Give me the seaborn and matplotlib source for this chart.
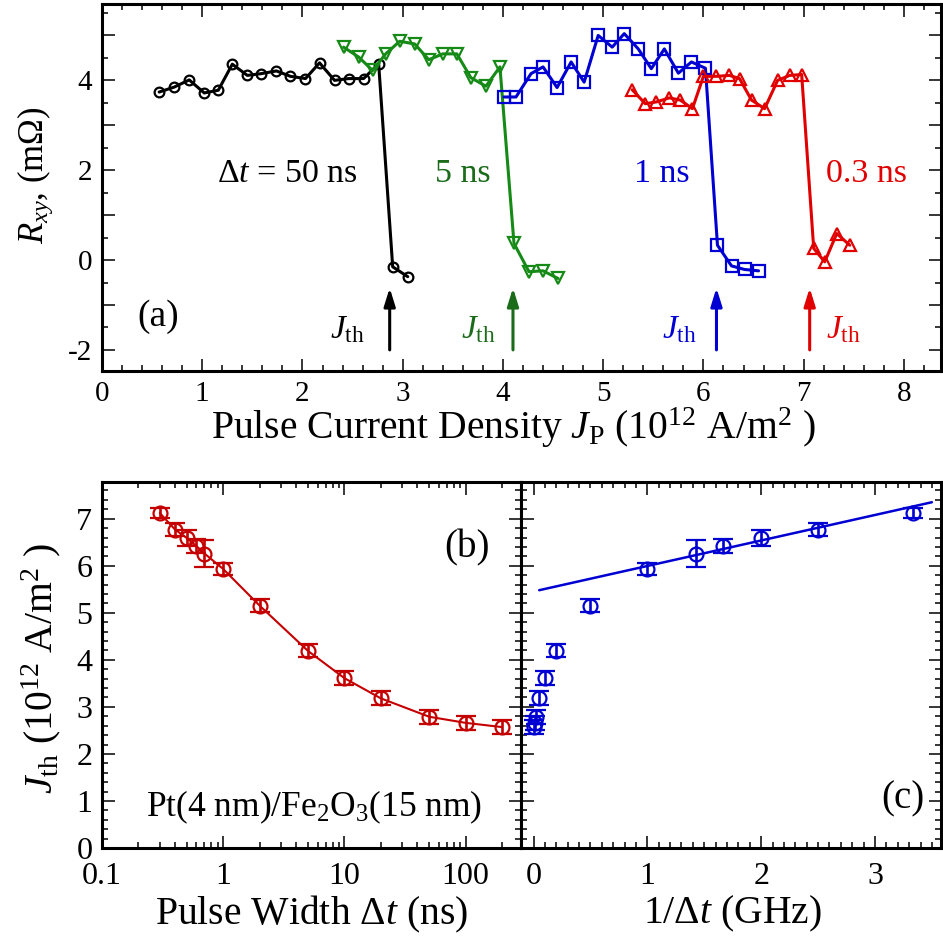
import matplotlib
matplotlib.use("Agg")
import matplotlib.pyplot as plt
from matplotlib.ticker import MultipleLocator, FuncFormatter, LogLocator, NullFormatter
import numpy as np
import pandas as pd
import seaborn as sns

# ---- panel (a): R_xy vs pulse current density ----
jp_50 = [0.57, 0.72, 0.87, 1.02, 1.16, 1.30, 1.45, 1.59, 1.74, 1.88, 2.03, 2.17,
         2.32, 2.46, 2.61, 2.76, 2.90, 3.05]
r_50 = [3.74, 3.85, 4.01, 3.72, 3.78, 4.36, 4.11, 4.15, 4.21, 4.09, 4.04, 4.39,
        4.00, 4.04, 4.04, 4.37, -0.15, -0.37]

jp_5 = [2.41, 2.56, 2.70, 2.83, 2.97, 3.12, 3.26, 3.40, 3.54, 3.68, 3.83, 3.97,
        4.11, 4.26, 4.40, 4.55]
r_5 = [4.74, 4.52, 4.22, 4.59, 4.87, 4.81, 4.46, 4.59, 4.59, 4.06, 3.87, 4.30,
       0.37, -0.26, -0.24, -0.41]

jp_1 = [4.01, 4.13, 4.28, 4.40, 4.54, 4.68, 4.81, 4.95, 5.09, 5.21, 5.35, 5.48,
        5.61, 5.75, 5.88, 6.02, 6.14, 6.28, 6.41, 6.55]
r_1 = [3.63, 3.63, 4.15, 4.30, 3.84, 4.41, 3.96, 5.00, 4.74, 5.04, 4.70, 4.26,
       4.70, 4.16, 4.41, 4.27, 0.33, -0.13, -0.21, -0.24]

jp_03 = [5.29, 5.42, 5.53, 5.66, 5.77, 5.89, 6.00, 6.13, 6.26, 6.36, 6.48, 6.61,
         6.74, 6.86, 6.98, 7.10, 7.21, 7.33, 7.46]
r_03 = [3.79, 3.48, 3.52, 3.61, 3.56, 3.37, 4.09, 4.09, 4.11, 4.04, 3.56, 3.37,
        4.00, 4.11, 4.13, 0.26, -0.04, 0.59, 0.33]

jth_arrow_x = [2.87, 4.10, 6.13, 7.06]

# ---- panels (b), (c): threshold current density vs pulse width ----
pulse_width = [0.3, 0.4, 0.5, 0.6, 0.7, 1, 2, 5, 10, 20, 50, 100, 200]
j_th = [7.12, 6.77, 6.59, 6.42, 6.26, 5.93, 5.15, 4.19, 3.61, 3.18, 2.79, 2.66, 2.57]
j_err = [0.11, 0.14, 0.18, 0.14, 0.28, 0.13, 0.14, 0.14, 0.15, 0.15, 0.15, 0.15, 0.15]
fit_x = [0.05, 3.50]
fit_y = [5.48, 7.35]

BLACK = "black"
GREEN = "#168a16"
GREEN_TXT = "#1a6b1a"
BLUE = "#0000d2"
RED = "#e00000"
RED_B = "#c40000"

sns.set_theme(style="ticks")
plt.rcParams.update({
    "font.family": ["Liberation Serif", "DejaVu Serif"],
    "mathtext.fontset": "custom",
    "mathtext.rm": "Liberation Serif",
    "mathtext.it": "Liberation Serif:italic",
    "mathtext.bf": "Liberation Serif:bold",
    "axes.unicode_minus": False,
    "axes.linewidth": 2.2,
    "axes.edgecolor": "black",
    "axes.labelcolor": "black",
    "text.color": "black",
    "xtick.color": "black",
    "ytick.color": "black",
    "xtick.labelcolor": "black",
    "ytick.labelcolor": "black",
})

fig = plt.figure(figsize=(9.43, 9.40), dpi=100)
W, H = 943, 940


def px_axes(x0, y0, x1, y1):
    return fig.add_axes([x0 / W, 1 - y1 / H, (x1 - x0) / W, (y1 - y0) / H])


ax_a = px_axes(102, 4, 941, 371)
ax_b = px_axes(102, 482, 521, 848)
ax_c = px_axes(521, 482, 941, 848)


def style_ticks(ax, size, xpad=7):
    ax.tick_params(which="both", direction="in", top=True, right=True,
                   labelsize=size, width=1.1, pad=7)
    ax.tick_params(axis="x", which="both", pad=xpad)
    ax.tick_params(which="major", length=9)
    ax.tick_params(which="minor", length=4.5)


# ---- (a) ----
series = [
    (jp_50, r_50, BLACK, "o", 7),
    (jp_5, r_5, GREEN, "v", 9),
    (jp_1, r_1, BLUE, "s", 8),
    (jp_03, r_03, RED, "^", 9),
]
for xs, ys, col, mk, ms in series:
    df = pd.DataFrame({"J": xs, "R": ys})
    sns.lineplot(data=df, x="J", y="R", sort=False, estimator=None, ax=ax_a,
                 color=col, linewidth=2.2, marker=mk, markersize=ms,
                 markerfacecolor="none", markeredgecolor=col, markeredgewidth=1.6)

ax_a.set_xlim(0, 8.37)
ax_a.set_ylim(-2.47, 5.7)
ax_a.xaxis.set_major_locator(MultipleLocator(1))
ax_a.xaxis.set_minor_locator(MultipleLocator(0.2))
ax_a.yaxis.set_major_locator(MultipleLocator(1))
ax_a.yaxis.set_minor_locator(MultipleLocator(0.5))
ax_a.yaxis.set_major_formatter(FuncFormatter(
    lambda v, p: f"{int(round(v))}" if int(round(v)) % 2 == 0 else ""))
style_ticks(ax_a, 21)
ax_a.set_xlabel(r"Pulse Current Density $J_{\rm P}$ (10$^{12}$ A/m$^2$ )", fontsize=28.5)
ax_a.xaxis.set_label_coords(0.49, -0.095)
ax_a.xaxis.label.set_va("top")
ax_a.set_ylabel(r"$R_{xy}$, (m$\Omega$)", fontsize=25)
ax_a.yaxis.set_label_coords(-0.056, 0.534)

arrow_cols = [BLACK, GREEN_TXT, BLUE, RED]
for xa, col in zip(jth_arrow_x, arrow_cols):
    ax_a.annotate("", xy=(xa, -0.62), xytext=(xa, -2.0),
                  arrowprops=dict(arrowstyle="-|>,head_length=0.9,head_width=0.28",
                                  color=col, lw=2.2, shrinkA=0, shrinkB=0))
jth_fs = 24
ax_a.text(2.45, -1.55, r"$J_{\rm th}$", color=BLACK, fontsize=jth_fs, ha="center", va="center")
ax_a.text(3.75, -1.55, r"$J_{\rm th}$", color=GREEN_TXT, fontsize=jth_fs, ha="center", va="center")
ax_a.text(5.76, -1.55, r"$J_{\rm th}$", color=BLUE, fontsize=jth_fs, ha="center", va="center")
ax_a.text(7.40, -1.55, r"$J_{\rm th}$", color=RED, fontsize=jth_fs, ha="center", va="center")

lab_fs = 24.5
ax_a.text(1.85, 1.92, r"$\Delta t$ = 50 ns", color=BLACK, fontsize=lab_fs, ha="center", va="center")
ax_a.text(3.60, 1.92, "5 ns", color=GREEN_TXT, fontsize=lab_fs, ha="center", va="center")
ax_a.text(5.58, 1.92, "1 ns", color=BLUE, fontsize=lab_fs, ha="center", va="center")
ax_a.text(7.63, 1.92, "0.3 ns", color=RED, fontsize=lab_fs, ha="center", va="center")
ax_a.text(0.56, -1.26, "(a)", color=BLACK, fontsize=27, ha="center", va="center")

# ---- (b) ----
dfb = pd.DataFrame({"dt": pulse_width, "J": j_th, "err": j_err})
sns.lineplot(data=dfb, x="dt", y="J", sort=False, estimator=None, ax=ax_b,
             color=RED_B, linewidth=1.5)
ax_b.errorbar(dfb["dt"], dfb["J"], yerr=dfb["err"], fmt="o", color=RED_B,
              mfc="none", mec=RED_B, ms=10, mew=1.6, elinewidth=1.9, capsize=7,
              capthick=1.9)
ax_b.set_xscale("log")
ax_b.set_xlim(0.1, 286)
ax_b.set_ylim(0, 7.78)
ax_b.xaxis.set_major_locator(LogLocator(base=10, numticks=10))
ax_b.xaxis.set_minor_locator(LogLocator(base=10, subs=np.arange(2, 10), numticks=20))
ax_b.xaxis.set_minor_formatter(NullFormatter())
ax_b.xaxis.set_major_formatter(FuncFormatter(lambda v, p: f"{v:g}"))
ax_b.yaxis.set_major_locator(MultipleLocator(1))
ax_b.yaxis.set_minor_locator(MultipleLocator(0.2))
style_ticks(ax_b, 23, xpad=10)
ax_b.set_xlabel(r"Pulse Width $\Delta t$ (ns)", fontsize=28.5)
ax_b.xaxis.set_label_coords(0.5, -0.125)
ax_b.xaxis.label.set_va("top")
ax_b.set_ylabel(r"$J_{\rm th}$ (10$^{12}$ A/m$^2$ )", fontsize=28.5)
ax_b.yaxis.set_label_coords(-0.093, 0.49)
ax_b.text(0.87, 0.82, "(b)", transform=ax_b.transAxes, fontsize=28, ha="center", va="center")
ax_b.text(0.505, 0.11, r"Pt(4 nm)/Fe$_2$O$_3$(15 nm)", transform=ax_b.transAxes,
          fontsize=25.5, ha="center", va="center")

# ---- (c) ----
dfc = pd.DataFrame({"f": 1 / np.array(pulse_width), "J": j_th, "err": j_err})
dff = pd.DataFrame({"f": fit_x, "J": fit_y})
sns.lineplot(data=dff, x="f", y="J", sort=False, estimator=None, ax=ax_c,
             color=BLUE, linewidth=1.8)
ax_c.errorbar(dfc["f"], dfc["J"], yerr=dfc["err"], fmt="o", color=BLUE,
              mfc="none", mec=BLUE, ms=10, mew=1.6, elinewidth=1.9, capsize=7,
              capthick=1.9)
ax_c.set_xlim(-0.11, 3.58)
ax_c.set_ylim(0, 7.78)
ax_c.xaxis.set_major_locator(MultipleLocator(1))
ax_c.xaxis.set_minor_locator(MultipleLocator(0.1))
ax_c.yaxis.set_major_locator(MultipleLocator(1))
ax_c.yaxis.set_minor_locator(MultipleLocator(0.2))
style_ticks(ax_c, 23, xpad=10)
ax_c.tick_params(labelleft=False)
ax_c.set_xlabel(r"1/$\Delta t$ (GHz)", fontsize=28.5)
ax_c.xaxis.set_label_coords(0.503, -0.125)
ax_c.xaxis.label.set_va("top")
ax_c.set_ylabel("")
ax_c.text(0.91, 0.135, "(c)", transform=ax_c.transAxes, fontsize=28, ha="center", va="center")

for ax in (ax_a, ax_b, ax_c):
    ax.grid(False)
    for s in ax.spines.values():
        s.set_visible(True)

fig.savefig("out.png", dpi=100)
